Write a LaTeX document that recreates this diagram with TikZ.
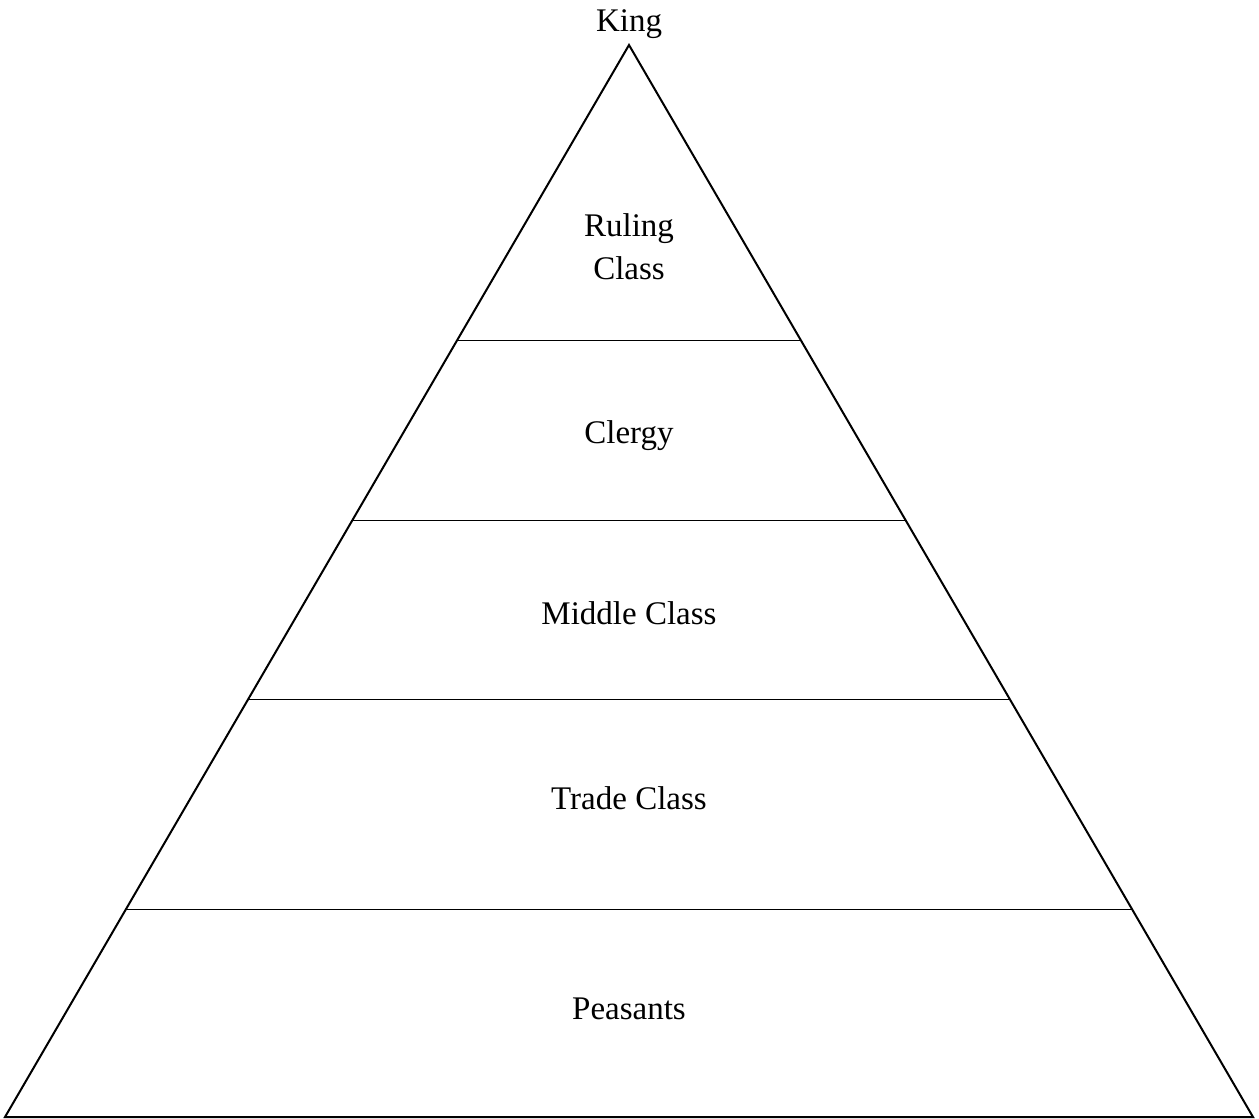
\documentclass[tikz,border=0pt]{standalone}
\usepackage{fontspec}
\setmainfont{Liberation Serif}
\usetikzlibrary{calc}
\begin{document}
\begin{tikzpicture}[x=1pt,y=-1pt,
  edge/.style={line width=2pt,line join=miter},
  band/.style={line width=1pt},
  lbl/.style={anchor=base,inner sep=0pt,font=\fontsize{33}{39}\selectfont}]
\useasboundingbox (0,0) rectangle (1259,1119);
\coordinate (apex) at (629,45);
\coordinate (bl) at (5,1117);
\coordinate (br) at (1253,1117);
\draw[edge] (apex) -- (bl) -- (br) -- cycle;
\foreach \t/\n in {0.2752/a,0.4431/b,0.6110/c,0.8060/d}{
  \coordinate (l\n) at ($(apex)!\t!(bl)$);
  \coordinate (r\n) at ($(apex)!\t!(br)$);
  \draw[band] (l\n) -- (r\n);
}
\node[lbl] (king) at (629,31) {King};
\node[lbl] (ruling1) at (629,236) {Ruling};
\node[lbl] (ruling2) at (629,279) {Class};
\node[lbl] (clergy) at (629,443) {Clergy};
\node[lbl] (middle) at (629,624) {Middle Class};
\node[lbl] (trade) at (629,809) {Trade Class};
\node[lbl] (peasants) at (629,1019) {Peasants};
\end{tikzpicture}
\end{document}
